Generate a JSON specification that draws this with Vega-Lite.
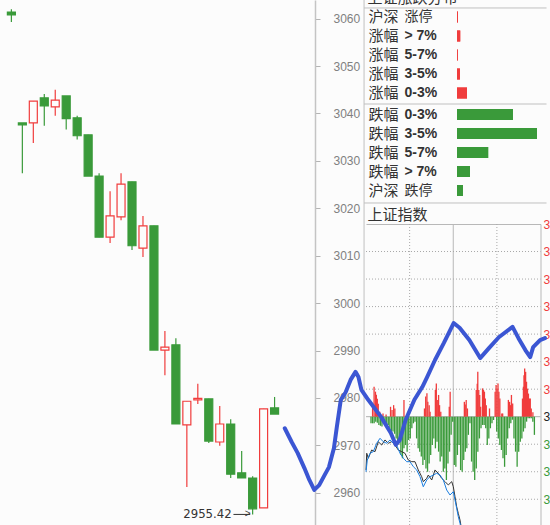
{
"$schema": "https://vega.github.io/schema/vega-lite/v6.json",
"width": 550, "height": 525, "padding": 0, "autosize": {"type": "none"},
"background": "#fcfcfc",
"config": {"view": {"stroke": null}, "axis": {"grid": false}, "font": "Liberation Sans"},
"datasets": {
"candles": [
{"i":0,"o":3061.4,"h":3062.0,"l":3059.3,"c":3060.8},
{"i":1,"o":3038.0,"h":3038.0,"l":3027.4,"c":3037.6},
{"i":2,"o":3038.0,"h":3042.6,"l":3033.8,"c":3042.6},
{"i":3,"o":3043.3,"h":3044.1,"l":3037.4,"c":3041.6},
{"i":4,"o":3041.4,"h":3045.0,"l":3039.5,"c":3042.8},
{"i":5,"o":3043.7,"h":3043.7,"l":3036.6,"c":3038.9},
{"i":6,"o":3039.1,"h":3039.5,"l":3034.5,"c":3035.3},
{"i":7,"o":3035.5,"h":3035.5,"l":3026.8,"c":3026.8},
{"i":8,"o":3026.8,"h":3027.4,"l":3013.9,"c":3013.9},
{"i":9,"o":3013.9,"h":3023.6,"l":3012.7,"c":3018.4},
{"i":10,"o":3018.2,"h":3027.4,"l":3017.5,"c":3025.1},
{"i":11,"o":3025.6,"h":3025.6,"l":3011.2,"c":3012.1},
{"i":12,"o":3011.6,"h":3018.4,"l":3009.7,"c":3016.3},
{"i":13,"o":3016.3,"h":3016.3,"l":2990.1,"c":2990.1},
{"i":14,"o":2990.1,"h":2994.1,"l":2984.8,"c":2990.7},
{"i":15,"o":2991.2,"h":2992.6,"l":2974.5,"c":2974.5},
{"i":16,"o":2974.3,"h":2979.3,"l":2961.2,"c":2979.3},
{"i":17,"o":2979.6,"h":2983.0,"l":2978.7,"c":2979.9},
{"i":18,"o":2979.8,"h":2979.8,"l":2970.5,"c":2970.9},
{"i":19,"o":2970.7,"h":2978.3,"l":2969.9,"c":2974.5},
{"i":20,"o":2974.5,"h":2975.5,"l":2963.1,"c":2963.9},
{"i":21,"o":2964.2,"h":2968.8,"l":2963.1,"c":2963.1},
{"i":22,"o":2963.1,"h":2963.5,"l":2955.42,"c":2956.6},
{"i":23,"o":2956.8,"h":2977.7,"l":2956.8,"c":2977.7},
{"i":24,"o":2977.9,"h":2980.2,"l":2976.6,"c":2976.6}
],
"blue": [
{"i":24.93,"p":2973.6},{"i":25.56,"p":2970.7},{"i":26.10,"p":2968.4},{"i":26.72,"p":2965.2},{"i":27.17,"p":2962.7},{"i":27.62,"p":2960.6},{"i":28.07,"p":2961.6},{"i":28.51,"p":2963.5},{"i":28.96,"p":2965.4},{"i":29.41,"p":2969.4},{"i":29.68,"p":2973.9},{"i":30.04,"p":2979.6},{"i":30.48,"p":2981.2},{"i":30.93,"p":2983.8},{"i":31.38,"p":2985.5},{"i":31.65,"p":2984.4},{"i":31.92,"p":2981.7},{"i":32.54,"p":2979.6},{"i":33.71,"p":2976.0},{"i":34.60,"p":2972.6},{"i":35.05,"p":2970.1},{"i":35.41,"p":2971.1},{"i":35.94,"p":2975.3},{"i":36.75,"p":2979.6},{"i":37.47,"p":2982.3},{"i":37.91,"p":2984.4},{"i":38.63,"p":2988.0},{"i":39.44,"p":2991.6},{"i":40.33,"p":2995.8},{"i":40.87,"p":2994.8},{"i":41.76,"p":2992.2},{"i":42.75,"p":2988.4},{"i":43.55,"p":2990.5},{"i":44.45,"p":2992.8},{"i":45.70,"p":2995.0},{"i":46.24,"p":2992.6},{"i":46.87,"p":2990.1},{"i":47.31,"p":2988.6},{"i":47.58,"p":2990.7},{"i":48.21,"p":2992.2},{"i":48.66,"p":2992.6}
],
"lowmark": [{"i":22,"p":2955.42,"label":"2955.42"}],
"upTable": [
{"item":"沪深 涨停","n":16},{"item":"涨幅 > 7%","n":55},{"item":"涨幅 5-7%","n":14},{"item":"涨幅 3-5%","n":50},{"item":"涨幅 0-3%","n":170}
],
"downTable": [
{"item":"跌幅 0-3%","n":950},{"item":"跌幅 3-5%","n":1360},{"item":"跌幅 5-7%","n":530},{"item":"跌幅 > 7%","n":220},{"item":"沪深 跌停","n":100}
],
"ibars": [
{"t":2.3,"v":4.2},{"t":4.5,"v":10.9},{"t":6.5,"v":9.1},{"t":7.8,"v":8.0},{"t":9.2,"v":6.5},{"t":10.6,"v":4.7},{"t":12.8,"v":1.8},{"t":17.5,"v":1.2},{"t":22.0,"v":0.8},{"t":28.5,"v":3.6},{"t":30.7,"v":2.4},{"t":33.0,"v":4.2},{"t":34.8,"v":3.0},{"t":48.1,"v":6.1},{"t":78.0,"v":3.0},{"t":79.8,"v":7.3},{"t":81.6,"v":8.5},{"t":82.9,"v":5.4},{"t":84.9,"v":4.2},{"t":86.2,"v":1.8},{"t":93.9,"v":9.7},{"t":95.3,"v":12.1},{"t":96.7,"v":6.1},{"t":98.6,"v":7.9},{"t":100.0,"v":4.2},{"t":101.8,"v":1.8},{"t":114.2,"v":3.6},{"t":115.5,"v":9.1},{"t":136.2,"v":5.4},{"t":137.5,"v":4.4},{"t":138.9,"v":6.1},{"t":140.7,"v":3.0},{"t":153.6,"v":9.7},{"t":155.0,"v":12.0},{"t":155.8,"v":16.3},{"t":157.2,"v":9.7},{"t":158.6,"v":7.9},{"t":160.0,"v":3.6},{"t":162.7,"v":10.3},{"t":164.1,"v":9.7},{"t":165.5,"v":9.1},{"t":166.8,"v":6.6},{"t":168.2,"v":4.2},{"t":172.9,"v":3.0},{"t":181.1,"v":9.1},{"t":182.5,"v":11.5},{"t":183.9,"v":10.2},{"t":185.3,"v":12.1},{"t":186.6,"v":9.1},{"t":188.0,"v":6.6},{"t":190.8,"v":1.2},{"t":192.1,"v":1.2},{"t":200.4,"v":6.1},{"t":202.2,"v":5.4},{"t":203.6,"v":4.2},{"t":204.9,"v":7.9},{"t":206.7,"v":4.8},{"t":221.0,"v":6.6},{"t":222.4,"v":10.9},{"t":223.2,"v":15.1},{"t":224.2,"v":17.5},{"t":225.6,"v":16.3},{"t":226.9,"v":12.7},{"t":228.3,"v":10.2},{"t":229.7,"v":8.4},{"t":231.1,"v":6.6},{"t":232.4,"v":6.6},{"t":233.8,"v":3.0},{"t":236.2,"v":1.6},
{"t":0,"v":-2.4},{"t":2.3,"v":-2.4},{"t":4.6,"v":-2.4},{"t":6.9,"v":-1.8},{"t":9.2,"v":-2.2},{"t":11.5,"v":-3.0},{"t":13.8,"v":-3.3},{"t":16.0,"v":-3.6},{"t":18.3,"v":-2.5},{"t":20.6,"v":-2.4},{"t":22.9,"v":-2.9},{"t":25.2,"v":-3.0},{"t":27.5,"v":-4.4},{"t":29.8,"v":-6.6},{"t":32.1,"v":-5.4},{"t":34.4,"v":-6.2},{"t":36.7,"v":-7.9},{"t":39.0,"v":-10.3},{"t":41.3,"v":-9.1},{"t":43.6,"v":-13.9},{"t":45.9,"v":-15.1},{"t":48.1,"v":-11.5},{"t":50.4,"v":-10.3},{"t":52.7,"v":-12.7},{"t":55.0,"v":-8.5},{"t":57.3,"v":-7.9},{"t":59.6,"v":-4.2},{"t":61.9,"v":-2.4},{"t":64.2,"v":-1.8},{"t":66.5,"v":-7.9},{"t":68.8,"v":-11.5},{"t":71.1,"v":-12.7},{"t":73.4,"v":-14.5},{"t":75.7,"v":-17.5},{"t":77.9,"v":-15.7},{"t":80.2,"v":-18.8},{"t":82.5,"v":-20.0},{"t":84.8,"v":-17.0},{"t":87.1,"v":-13.9},{"t":89.4,"v":-10.3},{"t":91.7,"v":-7.9},{"t":94.0,"v":-11.5},{"t":96.3,"v":-9.1},{"t":98.6,"v":-12.7},{"t":100.9,"v":-16.3},{"t":103.2,"v":-14.5},{"t":105.5,"v":-20.0},{"t":107.7,"v":-18.8},{"t":110.0,"v":-23.0},{"t":112.3,"v":-17.0},{"t":114.6,"v":-12.7},{"t":116.9,"v":-6.6},{"t":119.2,"v":-1.8},{"t":121.5,"v":-17.5},{"t":123.8,"v":-18.2},{"t":126.1,"v":-13.9},{"t":128.4,"v":-10.3},{"t":130.7,"v":-19.4},{"t":133.0,"v":-20.0},{"t":135.3,"v":-15.7},{"t":137.6,"v":-12.7},{"t":139.8,"v":-11.5},{"t":142.1,"v":-6.6},{"t":144.4,"v":-2.4},{"t":146.7,"v":-16.3},{"t":149.0,"v":-20.0},{"t":151.3,"v":-23.0},{"t":153.6,"v":-18.8},{"t":155.9,"v":-12.7},{"t":158.2,"v":-7.9},{"t":160.5,"v":-4.2},{"t":162.8,"v":-3.0},{"t":165.1,"v":-3.0},{"t":167.4,"v":-4.2},{"t":169.6,"v":-10.3},{"t":171.9,"v":-7.9},{"t":174.2,"v":-4.2},{"t":176.5,"v":-2.4},{"t":178.8,"v":-1.2},{"t":183.4,"v":-5.4},{"t":185.7,"v":-7.9},{"t":188.0,"v":-10.3},{"t":190.3,"v":-12.1},{"t":192.6,"v":-15.1},{"t":194.9,"v":-18.2},{"t":197.2,"v":-13.9},{"t":199.4,"v":-7.9},{"t":201.7,"v":-4.2},{"t":204.0,"v":-2.4},{"t":206.3,"v":-1.1},{"t":208.6,"v":-7.9},{"t":210.9,"v":-12.7},{"t":213.2,"v":-18.2},{"t":215.5,"v":-12.7},{"t":217.8,"v":-9.1},{"t":220.1,"v":-7.9},{"t":222.4,"v":-5.4},{"t":224.7,"v":-4.2},{"t":227.0,"v":-1.8},{"t":229.2,"v":-0.6},{"t":231.5,"v":-0.6},{"t":233.8,"v":-0.6},{"t":236.1,"v":-1.8},{"t":238.4,"v":-6.6}
],
"iline": [
{"s":"k","t":0,"price":3016.13},{"s":"k","t":1.0,"price":3017.34},{"s":"k","t":3.2,"price":3016.98},{"s":"k","t":7.8,"price":3017.58},{"s":"k","t":12.4,"price":3017.46},{"s":"k","t":16.9,"price":3018.18},{"s":"k","t":21.6,"price":3017.94},{"s":"k","t":26.1,"price":3018.31},{"s":"k","t":30.7,"price":3018.07},{"s":"k","t":35.3,"price":3018.18},{"s":"k","t":39.9,"price":3017.94},{"s":"k","t":44.4,"price":3017.58},{"s":"k","t":49.1,"price":3017.46},{"s":"k","t":53.6,"price":3017.34},{"s":"k","t":58.2,"price":3016.85},{"s":"k","t":62.9,"price":3016.73},{"s":"k","t":67.4,"price":3016.73},{"s":"k","t":71.9,"price":3016.13},{"s":"k","t":76.6,"price":3015.64},{"s":"k","t":78.8,"price":3015.28},{"s":"k","t":83.5,"price":3015.52},{"s":"k","t":85.7,"price":3015.76},{"s":"k","t":90.4,"price":3015.40},{"s":"k","t":94.9,"price":3016.13},{"s":"k","t":99.4,"price":3015.89},{"s":"k","t":104.1,"price":3015.52},{"s":"k","t":108.7,"price":3015.28},{"s":"k","t":113.2,"price":3015.04},{"s":"k","t":117.9,"price":3015.28},{"s":"k","t":120.1,"price":3014.91},{"s":"k","t":122.4,"price":3014.19},{"s":"k","t":124.7,"price":3013.46},{"s":"k","t":126.9,"price":3012.98},{"s":"k","t":129.3,"price":3012.49},{"s":"k","t":131.6,"price":3011.77},
{"s":"b","t":0,"price":3016.00},{"s":"b","t":1.8,"price":3016.85},{"s":"b","t":5.5,"price":3017.34},{"s":"b","t":10.0,"price":3017.46},{"s":"b","t":14.7,"price":3018.07},{"s":"b","t":19.3,"price":3018.43},{"s":"b","t":23.8,"price":3018.18},{"s":"b","t":28.5,"price":3018.07},{"s":"b","t":33.0,"price":3018.31},{"s":"b","t":37.5,"price":3018.07},{"s":"b","t":42.2,"price":3017.94},{"s":"b","t":46.8,"price":3017.34},{"s":"b","t":51.3,"price":3016.98},{"s":"b","t":56.0,"price":3016.73},{"s":"b","t":60.5,"price":3016.73},{"s":"b","t":65.1,"price":3016.37},{"s":"b","t":69.7,"price":3016.13},{"s":"b","t":74.3,"price":3015.64},{"s":"b","t":78.8,"price":3014.91},{"s":"b","t":83.5,"price":3015.40},{"s":"b","t":88.0,"price":3015.64},{"s":"b","t":92.6,"price":3015.76},{"s":"b","t":97.2,"price":3015.89},{"s":"b","t":101.8,"price":3015.76},{"s":"b","t":106.3,"price":3015.40},{"s":"b","t":111.0,"price":3014.67},{"s":"b","t":115.5,"price":3014.31},{"s":"b","t":120.1,"price":3014.55},{"s":"b","t":122.4,"price":3013.95},{"s":"b","t":124.7,"price":3013.35},{"s":"b","t":126.9,"price":3012.74},{"s":"b","t":129.3,"price":3012.26},{"s":"b","t":131.6,"price":3011.55}
]
},
"layer": [
{
 "data": {"name": "upTable"},
 "layer": [
  {"mark": {"type": "bar", "color": "#f03c3c", "height": 11},
   "encoding": {
    "y": {"field": "item", "type": "nominal", "sort": null, "scale": {"domain": ["沪深 涨停","涨幅 > 7%","涨幅 5-7%","涨幅 3-5%","涨幅 0-3%"], "range": [7.5, 102.5], "paddingInner": 0, "paddingOuter": 0},
     "axis": {"orient": "right", "offset": -185, "domain": false, "ticks": false, "tickSize": 0, "labelPadding": 3, "labelExpr": "slice(datum.label, 0, indexof(datum.label, ' '))", "labelFont": "Noto Sans CJK SC", "labelFontSize": 15, "labelColor": "#333333", "title": null, "grid": false}},
    "x": {"field": "n", "type": "quantitative", "scale": {"domain": [0, 1581], "range": [457, 550], "nice": false, "zero": true},
     "axis": {"orient": "top", "offset": -8, "domain": false, "ticks": false, "labels": false, "grid": false, "title": "上证涨跌分布", "titleX": 367, "titleY": -11, "titleAlign": "left", "titleBaseline": "middle", "titleAngle": 0, "titleFont": "Noto Sans CJK SC", "titleFontSize": 15, "titleFontWeight": "normal", "titleColor": "#333333"}}
   }},
  {"mark": {"type": "bar", "color": "#f03c3c", "height": 11},
   "encoding": {
    "y": {"field": "item", "type": "nominal", "sort": null, "scale": {"domain": ["沪深 涨停","涨幅 > 7%","涨幅 5-7%","涨幅 3-5%","涨幅 0-3%"], "range": [7.5, 102.5], "paddingInner": 0, "paddingOuter": 0},
     "axis": {"orient": "right", "offset": -149, "domain": false, "ticks": false, "tickSize": 0, "labelPadding": 3, "labelExpr": "slice(datum.label, indexof(datum.label, ' ') + 1)", "labelFont": "Liberation Sans, Noto Sans CJK SC", "labelFontSize": 14, "labelColor": "#333333", "labelFontWeight": {"condition": {"test": "indexof(datum.value, '停') >= 0", "value": "normal"}, "value": "bold"}, "title": null, "grid": false}},
    "x": {"field": "n", "type": "quantitative", "axis": null}
   }}
 ],
 "resolve": {"scale": {"y": "independent"}, "axis": {"x": "independent", "y": "independent"}}
},
{
 "data": {"name": "downTable"},
 "layer": [
  {"mark": {"type": "bar", "color": "#3a9a3a", "height": 11},
   "encoding": {
    "y": {"field": "item", "type": "nominal", "sort": null, "scale": {"domain": ["跌幅 0-3%","跌幅 3-5%","跌幅 5-7%","跌幅 > 7%","沪深 跌停"], "range": [105, 200], "paddingInner": 0, "paddingOuter": 0},
     "axis": {"orient": "right", "offset": -185, "domain": false, "ticks": false, "tickSize": 0, "labelPadding": 3, "labelExpr": "slice(datum.label, 0, indexof(datum.label, ' '))", "labelFont": "Noto Sans CJK SC", "labelFontSize": 15, "labelColor": "#333333", "title": null, "grid": false}},
    "x": {"field": "n", "type": "quantitative", "scale": {"domain": [0, 1581], "range": [457, 550], "nice": false, "zero": true}, "axis": null}
   }},
  {"mark": {"type": "bar", "color": "#3a9a3a", "height": 11},
   "encoding": {
    "y": {"field": "item", "type": "nominal", "sort": null, "scale": {"domain": ["跌幅 0-3%","跌幅 3-5%","跌幅 5-7%","跌幅 > 7%","沪深 跌停"], "range": [105, 200], "paddingInner": 0, "paddingOuter": 0},
     "axis": {"orient": "right", "offset": -149, "domain": false, "ticks": false, "tickSize": 0, "labelPadding": 3, "labelExpr": "slice(datum.label, indexof(datum.label, ' ') + 1)", "labelFont": "Liberation Sans, Noto Sans CJK SC", "labelFontSize": 14, "labelColor": "#333333", "labelFontWeight": {"condition": {"test": "indexof(datum.value, '停') >= 0", "value": "normal"}, "value": "bold"}, "title": null, "grid": false}},
    "x": {"field": "n", "type": "quantitative", "axis": null}
   }}
 ],
 "resolve": {"scale": {"y": "independent"}, "axis": {"x": "independent", "y": "independent"}}
},
{
 "layer": [
  {"data": {"values": [{"t": 60}, {"t": 180}]},
   "mark": {"type": "rule", "color": "#a8a8a8", "strokeDash": [1, 2]},
   "encoding": {
    "x": {"field": "t", "type": "quantitative", "scale": {"domain": [0, 240], "range": [366, 540.5], "nice": false, "zero": false},
     "axis": {"orient": "top", "offset": -224, "values": [0], "domain": true, "domainColor": "#b8b8b8", "ticks": false, "labels": false, "grid": false, "title": "上证指数", "titleX": 367, "titleY": -10, "titleAlign": "left", "titleBaseline": "middle", "titleAngle": 0, "titleFont": "Noto Sans CJK SC", "titleFontSize": 15, "titleFontWeight": "normal", "titleColor": "#333333"}},
    "y": {"datum": 3034, "type": "quantitative", "scale": {"domain": [3012.13, 3034], "range": [525, 224], "nice": false, "zero": false}, "axis": null},
    "y2": {"datum": 3012.13}
   }},
  {"data": {"values": [{"t": 120}]},
   "mark": {"type": "rule", "color": "#b8b8b8"},
   "encoding": {
    "x": {"field": "t", "type": "quantitative", "axis": null},
    "y": {"datum": 3034, "type": "quantitative", "axis": null},
    "y2": {"datum": 3012.13}
   }},
  {"data": {"values": [{"p": 3014}, {"p": 3016}, {"p": 3018}, {"p": 3022}, {"p": 3024}, {"p": 3026}, {"p": 3028}, {"p": 3030}, {"p": 3032}]},
   "mark": {"type": "rule", "color": "#a8a8a8", "strokeDash": [1, 2]},
   "encoding": {
    "x": {"datum": 0, "type": "quantitative", "axis": null},
    "x2": {"datum": 240},
    "y": {"field": "p", "type": "quantitative",
     "axis": {"orient": "right", "offset": -9.5, "values": [3012, 3014, 3016, 3018, 3020, 3022, 3024, 3026, 3028, 3030, 3032, 3034], "format": "d", "domain": true, "domainColor": "#b8b8b8", "ticks": false, "tickSize": 0, "labelPadding": 2.5, "labelFont": "Liberation Sans", "labelFontSize": 12, "labelOverlap": false, "labelColor": {"condition": [{"test": "datum.value > 3020", "value": "#f03c3c"}, {"test": "datum.value < 3020", "value": "#3a9a3a"}], "value": "#222222"}, "title": null, "grid": false}}
   }},
  {"data": {"values": [{"p": 3020}]},
   "mark": {"type": "rule", "color": "#b0b0b0"},
   "encoding": {
    "x": {"datum": 0, "type": "quantitative", "axis": null},
    "x2": {"datum": 240},
    "y": {"field": "p", "type": "quantitative", "axis": null}
   }}
 ],
 "resolve": {"axis": {"x": "independent", "y": "independent"}}
},
{
 "data": {"name": "ibars"},
 "mark": {"type": "bar", "size": 1.3},
 "encoding": {
  "x": {"field": "t", "type": "quantitative", "scale": {"domain": [0, 240], "range": [366, 540.5], "nice": false, "zero": false}, "axis": null},
  "y": {"field": "v", "type": "quantitative", "scale": {"domain": [-39.34, 70], "range": [525, 224], "nice": false}, "axis": null},
  "y2": {"datum": 0},
  "color": {"condition": {"test": "datum.v > 0", "value": "#f03c3c"}, "value": "#3a9a3a"}
 }
},
{
 "data": {"name": "iline"},
 "mark": {"type": "line", "strokeWidth": 1},
 "encoding": {
  "x": {"field": "t", "type": "quantitative", "scale": {"domain": [0, 240], "range": [366, 540.5], "nice": false, "zero": false}, "axis": null},
  "y": {"field": "price", "type": "quantitative", "scale": {"domain": [3012.13, 3034], "range": [525, 224], "nice": false, "zero": false}, "axis": null},
  "color": {"field": "s", "type": "nominal", "scale": {"domain": ["k", "b"], "range": ["#333333", "#1a7ee0"]}, "legend": null}
 }
},
{
 "layer": [
  {"data": {"name": "candles"},
   "mark": {"type": "rule", "strokeWidth": 1.2},
   "encoding": {
    "x": {"field": "i", "type": "quantitative", "scale": {"domain": [-0.582, 48.66], "nice": false, "zero": false}, "axis": null},
    "y": {"field": "l", "type": "quantitative", "scale": {"domain": [2953.19, 3063.94], "nice": false, "zero": false},
     "axis": {"orient": "right", "offset": -235, "values": [2960, 2970, 2980, 2990, 3000, 3010, 3020, 3030, 3040, 3050, 3060], "format": "d", "domain": true, "domainColor": "#c4c4c4", "domainWidth": 1.5, "ticks": true, "tickSize": 5, "tickColor": "#b4b4b4", "labelPadding": 13, "labelFont": "Liberation Sans", "labelFontSize": 12, "labelColor": "#808080", "title": null, "grid": false}},
    "y2": {"field": "h"},
    "color": {"condition": {"test": "datum.c >= datum.o", "value": "#f03c3c"}, "value": "#3a9a3a"}
   }},
  {"data": {"name": "candles"},
   "mark": {"type": "bar", "size": 8, "strokeWidth": 1.2},
   "encoding": {
    "x": {"field": "i", "type": "quantitative", "axis": null},
    "y": {"field": "o", "type": "quantitative", "axis": null},
    "y2": {"field": "c"},
    "fill": {"condition": {"test": "datum.c >= datum.o", "value": "#fcfcfc"}, "value": "#3a9a3a"},
    "stroke": {"condition": {"test": "datum.c >= datum.o", "value": "#f03c3c"}, "value": "#3a9a3a"}
   }},
  {"data": {"values": [{}]},
   "mark": {"type": "rule", "color": "#c0c0c0"},
   "encoding": {"x": {"datum": 32.16, "type": "quantitative", "axis": null}}},
  {"data": {"values": [{}]},
   "mark": {"type": "rule", "color": "#c0c0c0"},
   "encoding": {"x": {"datum": 32.16, "type": "quantitative", "axis": null}, "x2": {"datum": 48.8}, "y": {"datum": 3062.26, "type": "quantitative", "axis": null}}},
  {"data": {"values": [{}]},
   "mark": {"type": "rule", "color": "#c0c0c0"},
   "encoding": {"x": {"datum": 32.16, "type": "quantitative", "axis": null}, "x2": {"datum": 48.8}, "y": {"datum": 3042.0, "type": "quantitative", "axis": null}}},
  {"data": {"values": [{}]},
   "mark": {"type": "rule", "color": "#c0c0c0"},
   "encoding": {"x": {"datum": 32.16, "type": "quantitative", "axis": null}, "x2": {"datum": 48.8}, "y": {"datum": 3021.12, "type": "quantitative", "axis": null}}},
  {"data": {"name": "lowmark"},
   "mark": {"type": "text", "align": "right", "baseline": "middle", "dx": -21, "font": "Liberation Sans Narrow, DejaVu Sans Condensed, Liberation Sans", "fontSize": 13, "color": "#333333"},
   "encoding": {
    "x": {"field": "i", "type": "quantitative", "axis": null},
    "y": {"field": "p", "type": "quantitative", "axis": null},
    "text": {"field": "label"}
   }},
  {"data": {"name": "lowmark"},
   "mark": {"type": "rule", "color": "#333333"},
   "encoding": {
    "x": {"datum": 20.25, "type": "quantitative", "axis": null},
    "x2": {"datum": 21.78},
    "y": {"field": "p", "type": "quantitative", "axis": null}
   }},
  {"data": {"name": "lowmark"},
   "mark": {"type": "text", "text": ">", "align": "center", "baseline": "middle", "dx": -5, "fontSize": 10, "color": "#333333"},
   "encoding": {
    "x": {"field": "i", "type": "quantitative", "axis": null},
    "y": {"field": "p", "type": "quantitative", "axis": null}
   }},
  {"data": {"name": "blue"},
   "mark": {"type": "line", "color": "#3b56d3", "strokeWidth": 4, "strokeCap": "round", "strokeJoin": "round"},
   "encoding": {
    "x": {"field": "i", "type": "quantitative", "axis": null},
    "y": {"field": "p", "type": "quantitative", "axis": null}
   }}
 ],
 "resolve": {"axis": {"x": "independent", "y": "independent"}}
}
],
"resolve": {"scale": {"x": "independent", "y": "independent"}, "axis": {"x": "independent", "y": "independent"}}
}
